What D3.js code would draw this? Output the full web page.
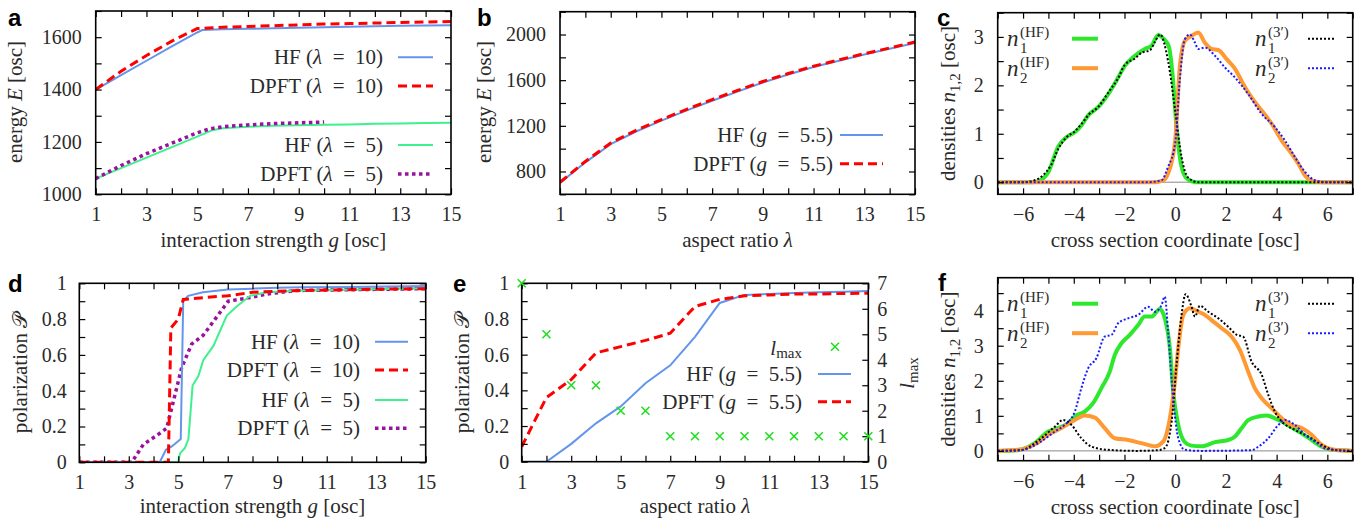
<!DOCTYPE html>
<html>
<head>
<meta charset="utf-8">
<script src="https://d3js.org/d3.v7.min.js"></script>
<style>
  html, body { margin: 0; background: #fff; overflow: hidden; }
  text { font-family: "Liberation Serif", "DejaVu Serif", serif; fill: #2a2a2a; white-space: pre; }
  .plab { font-family: "Liberation Sans", Arial, sans-serif; font-weight: bold; fill: #000; }
</style>
</head>
<body>
<svg id="fig" width="1359" height="518"></svg>
<script>
// ---------- data ----------
// (a) energy vs interaction strength g
const gHF10 = [1, 2, 3, 4, 5, 5.2, 6, 7, 8, 9, 10, 11, 12, 13, 14, 15];
const eHF10 = [1400, 1455, 1510, 1565, 1618, 1627, 1630, 1632, 1634, 1636, 1638, 1640, 1642, 1644, 1645, 1646];
const gDP10 = [1, 2, 3, 4, 5, 6, 7, 8, 9, 10, 11, 12, 13, 14, 15];
const eDP10 = [1400, 1470, 1530, 1585, 1633, 1638, 1641, 1644, 1647, 1650, 1652, 1654, 1656, 1658, 1660];
const gHF5 = [1, 2, 3, 4, 5, 5.6, 6, 7, 8, 9, 10, 11, 12, 13, 14, 15];
const eHF5 = [1060, 1100, 1140, 1180, 1220, 1245, 1252, 1258, 1262, 1264, 1266, 1267, 1269, 1270, 1272, 1273];
const gDP5 = [1, 2, 3, 4, 5, 5.5, 6, 7, 8, 9, 10];
const eDP5 = [1060, 1110, 1155, 1195, 1235, 1250, 1258, 1265, 1270, 1273, 1276];

// (b) energy vs aspect ratio
const lam = [1, 2, 3, 4, 5, 6, 7, 8, 9, 10, 11, 12, 13, 14, 15];
const eHFb = [700, 880, 1040, 1150, 1245, 1335, 1420, 1500, 1580, 1650, 1715, 1770, 1825, 1875, 1925];
const eDPb = [705, 888, 1050, 1160, 1255, 1345, 1430, 1510, 1588, 1658, 1722, 1778, 1832, 1882, 1935];

// (c) densities, g = 5.5 case
const cN1HF = [[-7,0],[-5.6,0],[-5.4,0.02],[-5.0,0.21],[-4.62,0.73],[-4.29,0.93],[-3.96,1.03],[-3.7,1.17],[-3.43,1.38],[-3.04,1.55],[-2.64,1.82],[-2.25,2.16],[-1.99,2.4],[-1.59,2.61],[-1.2,2.75],[-0.93,2.82],[-0.67,3.04],[-0.47,2.97],[-0.25,2.8],[-0.1,2.2],[0.05,1.14],[0.25,0.32],[0.45,0.08],[0.8,0],[7,0]];
const cN2HF = [[-7,0],[-0.8,0],[-0.5,0.03],[-0.28,0.18],[0,0.86],[0.18,2.37],[0.38,2.92],[0.64,3.02],[0.91,3.09],[1.17,2.88],[1.43,2.75],[1.7,2.73],[2.03,2.54],[2.36,2.34],[2.68,2.03],[3.01,1.75],[3.41,1.48],[3.8,1.21],[4.2,0.86],[4.59,0.59],[4.86,0.38],[5.12,0.14],[5.45,0.02],[5.8,0],[7,0]];
const cN13 = [[-7,0],[-6,0],[-5.6,0.03],[-5.2,0.15],[-4.9,0.35],[-4.6,0.7],[-4.3,0.92],[-3.96,1.05],[-3.7,1.2],[-3.4,1.4],[-3.04,1.55],[-2.64,1.85],[-2.25,2.15],[-1.99,2.42],[-1.6,2.55],[-1.3,2.68],[-1.0,2.72],[-0.8,2.9],[-0.6,3.05],[-0.28,2.5],[0,1.48],[0.25,0.52],[0.5,0.1],[0.9,0],[7,0]];
const cN23 = [[-7,0],[-1.1,0],[-0.54,0.04],[-0.28,0.32],[0,0.8],[0.18,2.1],[0.38,2.95],[0.58,3.05],[0.78,2.88],[0.91,2.75],[1.17,2.78],[1.57,2.61],[1.96,2.37],[2.36,2.16],[2.88,1.82],[3.41,1.41],[3.93,1.14],[4.33,0.86],[4.72,0.52],[5.12,0.21],[5.51,0.04],[6,0],[7,0]];

// (d) polarization vs g
const gPHF10 = [1, 4.25, 4.5, 4.75, 5.1, 5.2, 5.4, 6, 7, 8, 9, 10, 12, 15];
const pHF10 = [0, 0, 0.07, 0.09, 0.13, 0.9, 0.93, 0.95, 0.965, 0.97, 0.975, 0.978, 0.98, 0.985];
const gPDP10 = [1, 4.6, 4.7, 5.0, 5.2, 6, 7, 8, 9, 10, 12, 15];
const pDP10 = [0, 0, 0.75, 0.8, 0.91, 0.92, 0.93, 0.95, 0.955, 0.96, 0.965, 0.97];
const gPHF5 = [1, 5.0, 5.07, 5.27, 5.41, 5.58, 5.81, 6.01, 6.42, 6.96, 7.36, 7.9, 8.57, 10, 15];
const pHF5 = [0, 0, 0.05, 0.08, 0.13, 0.43, 0.48, 0.57, 0.65, 0.82, 0.87, 0.93, 0.95, 0.96, 0.972];
const gPDP5 = [1, 3.12, 3.59, 4.13, 4.53, 4.73, 5.14, 5.54, 6.01, 6.49, 7.02, 7.9, 8.57, 9.79, 15];
const pDP5 = [0, 0, 0.1, 0.15, 0.19, 0.3, 0.53, 0.66, 0.71, 0.8, 0.9, 0.92, 0.94, 0.96, 0.97];

// (e) polarization and l_max vs aspect ratio
const pHFe = [0, 0, 0.1, 0.215, 0.31, 0.44, 0.54, 0.7, 0.89, 0.935, 0.94, 0.945, 0.95, 0.953, 0.957];
const pDPe = [0.084, 0.36, 0.46, 0.61, 0.645, 0.68, 0.72, 0.87, 0.91, 0.93, 0.935, 0.94, 0.94, 0.943, 0.944];
const lmax = [7, 5, 3, 3, 2, 2, 1, 1, 1, 1, 1, 1, 1, 1, 1];

// (f) densities, second case
const fN1HF = [[-7,0],[-6.2,0.02],[-5.54,0.22],[-5.01,0.55],[-4.62,0.65],[-4.22,0.79],[-3.96,0.98],[-3.57,1.12],[-3.24,1.36],[-2.91,1.79],[-2.58,2.26],[-2.38,2.74],[-2.12,3.07],[-1.79,3.31],[-1.46,3.59],[-1.2,3.83],[-0.93,3.83],[-0.61,4.05],[-0.41,3.78],[-0.21,2.93],[-0.08,1.69],[0.12,0.74],[0.38,0.25],[0.64,0.15],[1.04,0.13],[1.57,0.25],[2.09,0.31],[2.36,0.41],[2.62,0.65],[2.88,0.88],[3.28,0.98],[3.61,1.01],[3.93,0.93],[4.2,0.84],[4.59,0.67],[4.99,0.5],[5.38,0.31],[5.78,0.12],[6.17,0.03],[7,0]];
const fN2HF = [[-7,0],[-6.2,0.03],[-5.5,0.2],[-5.01,0.46],[-4.49,0.65],[-3.96,0.88],[-3.57,1.01],[-3.17,0.95],[-2.78,0.65],[-2.38,0.36],[-1.86,0.31],[-1.33,0.22],[-0.8,0.13],[-0.47,0.27],[-0.21,0.93],[-0.01,1.98],[0.12,2.93],[0.32,3.88],[0.58,4.07],[0.91,3.97],[1.17,3.88],[1.43,3.73],[1.83,3.5],[2.22,3.26],[2.55,2.88],[2.88,2.26],[3.14,1.79],[3.41,1.5],[3.8,1.22],[4.2,0.93],[4.59,0.74],[4.99,0.65],[5.38,0.46],[5.78,0.17],[6.2,0.04],[7,0]];
const fN13 = [[-7,0],[-6.1,0.02],[-5.28,0.36],[-4.75,0.69],[-4.42,0.88],[-4.09,0.74],[-3.7,0.36],[-3.3,0.12],[-2.64,0.03],[-1.5,0],[-0.7,0.02],[-0.41,0.08],[-0.14,0.84],[0.05,2.45],[0.25,3.88],[0.41,4.47],[0.64,4.12],[0.78,3.83],[0.97,4.14],[1.3,3.97],[1.7,3.78],[2.09,3.54],[2.43,3.31],[2.68,3.26],[3.01,2.55],[3.41,2.17],[3.67,1.6],[3.93,1.12],[4.2,0.84],[4.72,0.6],[5.25,0.41],[5.78,0.17],[6.3,0.02],[7,0]];
const fN23 = [[-7,0],[-6.1,0.02],[-5.28,0.27],[-4.75,0.55],[-4.36,0.74],[-3.96,1.12],[-3.7,1.79],[-3.43,2.36],[-3.11,2.64],[-2.78,3.26],[-2.51,3.31],[-2.25,3.64],[-1.86,3.78],[-1.46,3.88],[-1.07,4.11],[-0.8,3.97],[-0.54,4.16],[-0.41,4.4],[-0.28,3.4],[-0.08,1.5],[0.12,0.36],[0.38,0.03],[1,0],[3.0,0.02],[3.28,0.12],[3.67,0.36],[4.07,0.74],[4.33,0.88],[4.72,0.74],[5.12,0.46],[5.51,0.27],[6.0,0.05],[7,0]];

// legend texts (*...* = italic)
const legA = ['HF (*λ*\u2002=\u200210)', 'DPFT (*λ*\u2002=\u200210)', 'HF (*λ*\u2002=\u20025)', 'DPFT (*λ*\u2002=\u20025)'];
const legB = ['HF (*g*\u2002=\u20025.5)', 'DPFT (*g*\u2002=\u20025.5)'];

// ---------- styles ----------
const S = {
  blue:   { c: '#6495ed', w: 2 },
  red:    { c: '#ff0000', w: 3, dash: '9,5' },
  green:  { c: '#3ff08e', w: 2 },
  purple: { c: '#9b119f', w: 3.5, dash: '3.5,3.5' },
  n1:     { c: '#2ee82e', w: 4 },
  n2:     { c: '#ff9933', w: 4 },
  n13:    { c: '#000000', w: 2, dash: '2,2' },
  n23:    { c: '#1a1aff', w: 2, dash: '2,2' }
};

const svg = d3.select('#fig');
const FS = 20;   // tick labels
const LS = 21;   // axis labels and legends

function styleAxis(s) {
  s.select('.domain').remove();
  s.attr('font-size', FS).attr('font-family', null);
  s.selectAll('.tick line').attr('stroke', '#000').attr('stroke-width', 1.2);
  s.selectAll('.tick text').attr('fill', '#2a2a2a');
}

function setupPanel(p) {
  const x = d3.scaleLinear().domain(p.xd).range([p.L, p.R]);
  const y = d3.scaleLinear().domain(p.yd).range([p.B, p.T]);
  const g = svg.append('g');
  svg.append('clipPath').attr('id', 'clip' + p.id)
    .append('rect').attr('x', p.L).attr('y', p.T).attr('width', p.R - p.L).attr('height', p.B - p.T);
  const plot = g.append('g').attr('clip-path', `url(#clip${p.id})`);

  g.append('g').attr('transform', `translate(0,${p.B})`)
    .call(d3.axisBottom(x).tickValues(p.xt).tickFormat(p.xf).tickSize(-6).tickPadding(13)).call(styleAxis);
  g.append('g').attr('transform', `translate(0,${p.T})`)
    .call(d3.axisTop(x).tickValues(p.xt).tickFormat(() => '').tickSize(-6)).call(styleAxis);
  g.append('g').attr('transform', `translate(${p.L},0)`)
    .call(d3.axisLeft(y).tickValues(p.yt).tickFormat(p.yf).tickSize(-6).tickPadding(p.yp || 14)).call(styleAxis);
  if (!p.noRight) {
    g.append('g').attr('transform', `translate(${p.R},0)`)
      .call(d3.axisRight(y).tickValues(p.yt).tickFormat(() => '').tickSize(-6)).call(styleAxis);
  }
  g.append('rect').attr('x', p.L).attr('y', p.T).attr('width', p.R - p.L).attr('height', p.B - p.T)
    .attr('fill', 'none').attr('stroke', '#000').attr('stroke-width', 1.6);

  // panel letter
  svg.append('text').attr('class', 'plab').attr('x', p.lx).attr('y', p.ly).attr('font-size', 24).text(p.id);
  return { g, plot, x, y, p };
}

function rich(sel, str) {
  str.split('*').forEach((s, i) => {
    if (s) sel.append('tspan').attr('font-style', i % 2 ? 'italic' : null).text(s);
  });
  return sel;
}

function applyStyle(sel, st) {
  return sel.attr('fill', 'none').attr('stroke', st.c).attr('stroke-width', st.w)
    .attr('stroke-dasharray', st.dash || null);
}

function xyLine(pn, xs, ys, st) {
  const line = d3.line().x(d => pn.x(d[0])).y(d => pn.y(d[1]));
  applyStyle(pn.plot.append('path').datum(d3.zip(xs, ys)).attr('d', line), st);
}

function curve(pn, pts, st) {
  const line = d3.line().curve(d3.curveMonotoneX).x(d => pn.x(d[0])).y(d => pn.y(d[1]));
  applyStyle(pn.plot.append('path').datum(pts).attr('d', line), st);
}

function sample(x1, x2, y, st) {
  applyStyle(svg.append('line').attr('x1', x1).attr('x2', x2).attr('y1', y).attr('y2', y), st);
}

function legendText(xEnd, y, str) {
  rich(svg.append('text').attr('x', xEnd).attr('y', y + 7).attr('text-anchor', 'end').attr('font-size', LS), str);
}

function xLabel(pn, str, y) {
  rich(svg.append('text').attr('x', (pn.p.L + pn.p.R) / 2).attr('y', y)
    .attr('text-anchor', 'middle').attr('font-size', LS), str);
}

function yLabel(x, y, build) {
  const t = svg.append('text').attr('transform', `translate(${x},${y}) rotate(-90)`)
    .attr('text-anchor', 'middle').attr('font-size', LS);
  build(t);
}

const odd = d => (d % 2 ? d : '');

// ---------- panel a ----------
const A = setupPanel({ id: 'a', L: 95.7, R: 451, T: 11, B: 194.3, xd: [1, 15], yd: [1000, 1700],
  xt: d3.range(1, 16), xf: odd, yt: d3.range(1000, 1701, 100), yf: d => (d % 200 === 0 ? d : ''),
  lx: 8, ly: 26 });
xyLine(A, gHF5, eHF5, S.green);
xyLine(A, gDP5, eDP5, S.purple);
xyLine(A, gHF10, eHF10, S.blue);
xyLine(A, gDP10, eDP10, S.red);
[[S.blue, 57.3], [S.red, 86], [S.green, 145], [S.purple, 174]].forEach(([st, y], i) => {
  legendText(383, y, legA[i]);
  sample(398, 433, y, st);
});
xLabel(A, 'interaction strength *g* [osc]', 247);
yLabel(22, 102, t => rich(t, 'energy *E* [osc]'));

// ---------- panel b ----------
const B = setupPanel({ id: 'b', L: 560, R: 915, T: 11.7, B: 194.3, xd: [1, 15], yd: [600, 2200],
  xt: d3.range(1, 16), xf: odd, yt: d3.range(600, 2201, 200), yf: d => (d % 400 === 0 ? d : ''),
  lx: 477, ly: 26 });
xyLine(B, lam, eHFb, S.blue);
xyLine(B, lam, eDPb, S.red);
[[S.blue, 135], [S.red, 163.7]].forEach(([st, y], i) => {
  legendText(833, y, legB[i]);
  sample(840, 883, y, st);
});
xLabel(B, 'aspect ratio *λ*', 247);
yLabel(491, 102, t => rich(t, 'energy *E* [osc]'));

// ---------- density legend helper ----------
function nLabel(x, yb, sub, sup) {
  svg.append('text').attr('x', x).attr('y', yb).attr('font-size', 23).attr('font-style', 'italic').text('n');
  svg.append('text').attr('x', x + 13).attr('y', yb - 9).attr('font-size', 15).text(sup);
  svg.append('text').attr('x', x + 13).attr('y', yb + 7).attr('font-size', 15).text(sub);
}
function densityPanel(pn, n1, n2, n13, n23) {
  const T = pn.p.T;
  pn.plot.append('line').attr('x1', pn.p.L).attr('x2', pn.p.R).attr('y1', pn.y(0)).attr('y2', pn.y(0))
    .attr('stroke', '#888').attr('stroke-width', 1);
  curve(pn, n1, S.n1);
  curve(pn, n2, S.n2);
  curve(pn, n13, S.n13);
  curve(pn, n23, S.n23);
  nLabel(1007, T + 33, '1', '(HF)');
  nLabel(1007, T + 63, '2', '(HF)');
  sample(1072, 1098, T + 26, S.n1);
  sample(1072, 1098, T + 55.5, S.n2);
  nLabel(1255, T + 33, '1', '(3\u2032)');
  nLabel(1255, T + 63, '2', '(3\u2032)');
  sample(1308, 1335, T + 26, S.n13);
  sample(1308, 1335, T + 55.5, S.n23);
  xLabel(pn, 'cross section coordinate [osc]', pn.p.B + 53);
  yLabel(955, (pn.p.T + pn.p.B) / 2, t => {
    t.append('tspan').text('densities ');
    t.append('tspan').attr('font-style', 'italic').text('n');
    t.append('tspan').attr('font-size', 15).attr('dy', 5).text('1,2');
    t.append('tspan').attr('dy', -5).text(' [osc]');
  });
}

// ---------- panel c ----------
const C = setupPanel({ id: 'c', L: 997.7, R: 1352.7, T: 12.7, B: 194.3, xd: [-7, 7], yd: [-0.25, 3.5],
  xt: d3.range(-7, 8), xf: d => (d % 2 === 0 ? d3.format('')(d) : ''),
  yt: d3.range(0, 3.51, 0.5), yf: d => (Number.isInteger(d) ? d : ''), lx: 937, ly: 26 });
densityPanel(C, cN1HF, cN2HF, cN13, cN23);

// ---------- panel d ----------
const pFmt = d => { const k = Math.round(d * 10); return k % 2 ? '' : (k === 0 ? '0' : k === 10 ? '1' : d.toFixed(1)); };
const D = setupPanel({ id: 'd', L: 79.3, R: 425.7, T: 283.3, B: 462.3, xd: [1, 15], yd: [0, 1],
  xt: d3.range(1, 16), xf: odd, yt: d3.range(0, 1.001, 0.1), yf: pFmt, yp: 12.5, lx: 8, ly: 292 });
xyLine(D, gPDP5, pDP5, S.purple);
xyLine(D, gPHF5, pHF5, S.green);
xyLine(D, gPHF10, pHF10, S.blue);
xyLine(D, gPDP10, pDP10, S.red);
[[S.blue, 341.7], [S.red, 370], [S.green, 400], [S.purple, 428.3]].forEach(([st, y], i) => {
  legendText(360, y, legA[i]);
  sample(375, 408, y, st);
});
xLabel(D, 'interaction strength *g* [osc]', 513);
yLabel(27, 373, t => rich(t, 'polarization 𝒫'));

// ---------- panel e ----------
const E = setupPanel({ id: 'e', L: 521.7, R: 868.3, T: 283.3, B: 461.7, xd: [1, 15], yd: [0, 1],
  xt: d3.range(1, 16), xf: odd, yt: d3.range(0, 1.001, 0.1), yf: pFmt, yp: 12.5, noRight: true,
  lx: 453, ly: 292 });
const yL = d3.scaleLinear().domain([0, 7]).range([E.p.B, E.p.T]);
E.g.append('g').attr('transform', `translate(${E.p.R},0)`)
  .call(d3.axisRight(yL).tickValues(d3.range(0, 8)).tickFormat(d => d).tickSize(-6).tickPadding(9)).call(styleAxis);
xyLine(E, lam, pHFe, S.blue);
xyLine(E, lam, pDPe, S.red);
const xMark = (cx, cy, r) => `M${cx - r},${cy - r}L${cx + r},${cy + r}M${cx - r},${cy + r}L${cx + r},${cy - r}`;
svg.append('g').selectAll('path').data(d3.zip(lam, lmax)).join('path')
  .attr('d', d => xMark(E.x(d[0]), yL(d[1]), 4))
  .attr('stroke', '#22dd22').attr('stroke-width', 1.6).attr('fill', 'none');
// legend
const lt = svg.append('text').attr('x', 802).attr('y', 355).attr('text-anchor', 'end').attr('font-size', LS);
lt.append('tspan').attr('font-style', 'italic').text('l');
lt.append('tspan').attr('font-size', 15).attr('dy', 3).text('max');
svg.append('path').attr('d', xMark(835, 346.7, 4)).attr('stroke', '#22dd22').attr('stroke-width', 1.6);
[[S.blue, 374], [S.red, 401.7]].forEach(([st, y], i) => {
  legendText(802, y, legB[i]);
  sample(818, 851, y, st);
});
xLabel(E, 'aspect ratio *λ*', 513);
yLabel(469, 373, t => rich(t, 'polarization 𝒫'));
yLabel(914, 373, t => {
  t.append('tspan').attr('font-style', 'italic').text('l');
  t.append('tspan').attr('font-size', 15).attr('dy', 4).text('max');
});

// ---------- panel f ----------
const F = setupPanel({ id: 'f', L: 997.7, R: 1352.7, T: 277.7, B: 460.7, xd: [-7, 7], yd: [-0.28, 4.94],
  xt: d3.range(-7, 8), xf: d => (d % 2 === 0 ? d3.format('')(d) : ''),
  yt: d3.range(0, 4.51, 0.5), yf: d => (Number.isInteger(d) ? d : ''), lx: 938, ly: 291 });
densityPanel(F, fN1HF, fN2HF, fN13, fN23);
</script>
</body>
</html>
